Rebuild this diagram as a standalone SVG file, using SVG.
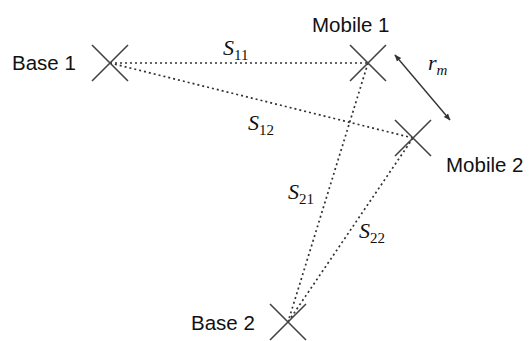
<svg xmlns="http://www.w3.org/2000/svg" width="529" height="341" viewBox="0 0 529 341">
<defs>
<style>
.x{stroke:#444;stroke-width:1.6;fill:none}
.d{stroke:#333;stroke-width:1.7;stroke-dasharray:2 3;fill:none}
.lab{font-family:"Liberation Sans",Arial,sans-serif;font-size:20.5px;fill:#111}
.s{font-family:"Liberation Serif","Times New Roman",serif;font-style:italic;font-size:22px;fill:#111}
.sub{font-family:"Liberation Serif","Times New Roman",serif;font-size:15px;fill:#111}
</style>
<marker id="ah" viewBox="0 0 10 10" refX="9" refY="5" markerWidth="7" markerHeight="7" orient="auto-start-reverse" markerUnits="userSpaceOnUse">
<path d="M0,1 L10,5 L0,9 z" fill="#333"/>
</marker>
</defs>
<rect width="529" height="341" fill="#fff"/>
<g id="connectors">
<line class="d" x1="110" y1="63" x2="368" y2="63"/>
<line class="d" x1="110" y1="63" x2="413" y2="138"/>
<line class="d" x1="368" y1="63" x2="288" y2="322"/>
<line class="d" x1="413" y1="138" x2="288" y2="322"/>
<line stroke="#333" stroke-width="1.4" x1="395" y1="55" x2="450" y2="120" marker-start="url(#ah)" marker-end="url(#ah)"/>
<text class="s" x="223" y="55">S<tspan class="sub" font-style="normal" dy="5">11</tspan></text>
<text class="s" x="248" y="130">S<tspan class="sub" font-style="normal" dy="5">12</tspan></text>
<text class="s" x="288" y="199">S<tspan class="sub" font-style="normal" dy="5">21</tspan></text>
<text class="s" x="359" y="238">S<tspan class="sub" font-style="normal" dy="5">22</tspan></text>
<text class="s" x="428" y="70">r<tspan class="sub" font-style="italic" dy="5">m</tspan></text>
</g>
<g id="base1">
<path class="x" d="M92,45 L128,81 M128,45 L92,81"/>
<text class="lab" x="12" y="70">Base 1</text>
</g>
<g id="mobile1">
<path class="x" d="M350,45 L386,81 M386,45 L350,81"/>
<text class="lab" x="312" y="32">Mobile 1</text>
</g>
<g id="mobile2">
<path class="x" d="M395,120 L431,156 M431,120 L395,156"/>
<text class="lab" x="446" y="172">Mobile 2</text>
</g>
<g id="base2">
<path class="x" d="M270,304 L306,340 M306,304 L270,340"/>
<text class="lab" x="191" y="330">Base 2</text>
</g>
</svg>
